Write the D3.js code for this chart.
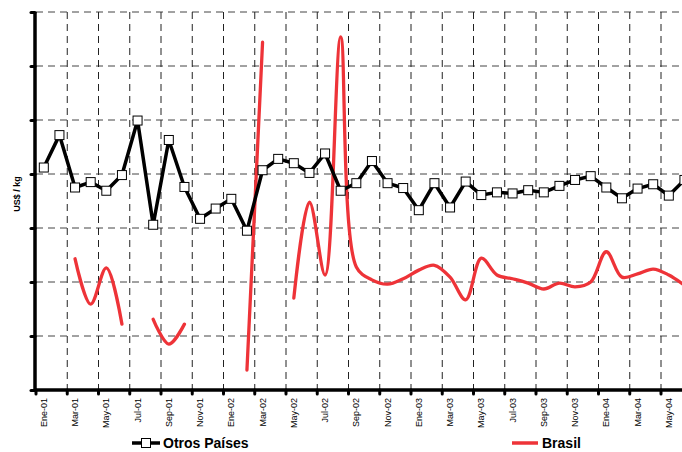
<!DOCTYPE html>
<html>
<head>
<meta charset="utf-8">
<script src="https://cdn.jsdelivr.net/npm/d3@7"></script>
<style>
  html, body { margin: 0; padding: 0; background: #fff; }
  svg { display: block; }
</style>
</head>
<body>
<svg id="chart" width="682" height="452"></svg>
<script>
const monthNames = ["Ene","Feb","Mar","Abr","May","Jun","Jul","Ago","Sep","Oct","Nov","Dic"];
const years = ["01","02","03","04"];
const months = [];
years.forEach(yr => monthNames.forEach(m => months.push(m + "-" + yr)));
const categories = months.slice(0, 42); // Ene-01 .. Jun-04

const otrosPaises = [4.12,4.72,3.75,3.85,3.69,3.98,4.99,3.06,4.63,3.76,3.17,3.36,
  3.54,2.95,4.07,4.28,4.20,4.02,4.38,3.69,3.83,4.24,3.83,3.74,
  3.33,3.83,3.38,3.86,3.61,3.66,3.64,3.70,3.66,3.78,3.89,3.96,
  3.75,3.55,3.73,3.81,3.60,3.89];

const brasil = [null,null,2.43,1.59,2.26,1.22,null,1.31,0.85,1.22,null,null,
  null,0.37,6.44,null,1.70,3.48,2.13,6.54,2.28,2.04,1.96,2.06,
  2.22,2.31,2.09,1.67,2.44,2.13,2.06,1.98,1.87,1.98,1.91,2.00,
  2.56,2.09,2.15,2.24,2.13,1.94];

const yTicks = [0,1,2,3,4,5,6,7];
const seriesNames = ["Otros Países", "Brasil"];

const svg = d3.select("#chart");
const pLeft = 36, pTop = 12, pBottom = 390, pRight = 682;
const step = 15.625;
const x = d3.scaleBand().domain(categories).range([pLeft, pLeft + step * categories.length]).padding(0);
const y = d3.scaleLinear().domain([0, 7]).range([pBottom, pTop]);

// grid
const grid = svg.append("g");
grid.selectAll("line.h").data(yTicks.filter(t => t > 0)).join("line")
  .attr("x1", pLeft).attr("x2", pRight)
  .attr("y1", d => y(d)).attr("y2", d => y(d))
  .attr("stroke", "#444").attr("stroke-width", 1).attr("stroke-dasharray", "7,5");
const tickCats = categories.filter((c, i) => i % 2 === 0);
grid.selectAll("line.v").data(tickCats.slice(1)).join("line")
  .attr("x1", d => x(d)).attr("x2", d => x(d))
  .attr("y1", pTop).attr("y2", pBottom)
  .attr("stroke", "#222").attr("stroke-width", 1).attr("stroke-dasharray", "7,5");

// series lines
const cx = i => x(categories[i]) + x.bandwidth() / 2;
const blackLine = d3.line()
  .x((d, i) => cx(i))
  .y(d => y(d));
const redLine = d3.line()
  .defined(d => d != null)
  .x((d, i) => cx(i))
  .y(d => y(d))
  .curve(d3.curveCatmullRom.alpha(0.5));

svg.append("path").datum(brasil)
  .attr("d", redLine)
  .attr("fill", "none").attr("stroke", "#ee3338").attr("stroke-width", 3.3)
  .attr("stroke-linejoin", "round").attr("stroke-linecap", "round");

svg.append("path").datum(otrosPaises)
  .attr("d", blackLine)
  .attr("fill", "none").attr("stroke", "#000").attr("stroke-width", 3.5)
  .attr("stroke-linejoin", "round");

svg.append("g").selectAll("rect").data(otrosPaises).join("rect")
  .attr("x", (d, i) => cx(i) - 4.5)
  .attr("y", d => y(d) - 4.5)
  .attr("width", 9).attr("height", 9)
  .attr("fill", "#fff").attr("stroke", "#000").attr("stroke-width", 1);

// axes
const yAxis = svg.append("g").attr("transform", `translate(${pLeft - 1},0)`)
  .call(d3.axisLeft(y).tickValues(yTicks).tickSize(4).tickFormat(""));
yAxis.select(".domain").attr("stroke", "#000").attr("stroke-width", 3.5).attr("d", `M0,${pTop}V${pBottom}`);
yAxis.selectAll(".tick line").attr("stroke", "#000").attr("stroke-width", 3).attr("stroke-linecap", "round");

const xAxis = svg.append("g").attr("transform", `translate(0,${pBottom})`);
xAxis.append("line").attr("x1", pLeft - 2).attr("x2", pRight).attr("y1", 0).attr("y2", 0)
  .attr("stroke", "#000").attr("stroke-width", 3.5);
xAxis.selectAll("line.t").data(tickCats).join("line")
  .attr("x1", d => x(d)).attr("x2", d => x(d)).attr("y1", 0).attr("y2", 4)
  .attr("stroke", "#000").attr("stroke-width", 3).attr("stroke-linecap", "round");
xAxis.selectAll("text").data(tickCats).join("text")
  .attr("transform", d => `translate(${x(d) + x.bandwidth() / 2},8) rotate(-90)`)
  .attr("text-anchor", "end").attr("dy", "0.35em")
  .attr("font-family", "Liberation Sans, Arial, sans-serif").attr("font-size", 9)
  .attr("fill", "#000")
  .text(d => d);

// y label
svg.append("text")
  .attr("transform", "translate(20,194) rotate(-90)")
  .attr("text-anchor", "middle")
  .attr("font-family", "Liberation Sans, Arial, sans-serif").attr("font-size", 9).attr("font-weight", "bold")
  .text("US$ / kg");

// legend
const lg = svg.append("g");
lg.append("line").attr("x1", 132).attr("x2", 160).attr("y1", 443).attr("y2", 443)
  .attr("stroke", "#000").attr("stroke-width", 3.5);
lg.append("rect").attr("x", 141.5).attr("y", 438.5).attr("width", 9).attr("height", 9)
  .attr("fill", "#fff").attr("stroke", "#000").attr("stroke-width", 1);
lg.append("text").attr("x", 163).attr("y", 448)
  .attr("font-family", "Liberation Sans, Arial, sans-serif").attr("font-size", 14).attr("font-weight", "bold")
  .text(seriesNames[0]);
lg.append("line").attr("x1", 512).attr("x2", 538).attr("y1", 443).attr("y2", 443)
  .attr("stroke", "#ee3338").attr("stroke-width", 3.5);
lg.append("text").attr("x", 542).attr("y", 448)
  .attr("font-family", "Liberation Sans, Arial, sans-serif").attr("font-size", 14).attr("font-weight", "bold")
  .text(seriesNames[1]);
</script>
</body>
</html>
